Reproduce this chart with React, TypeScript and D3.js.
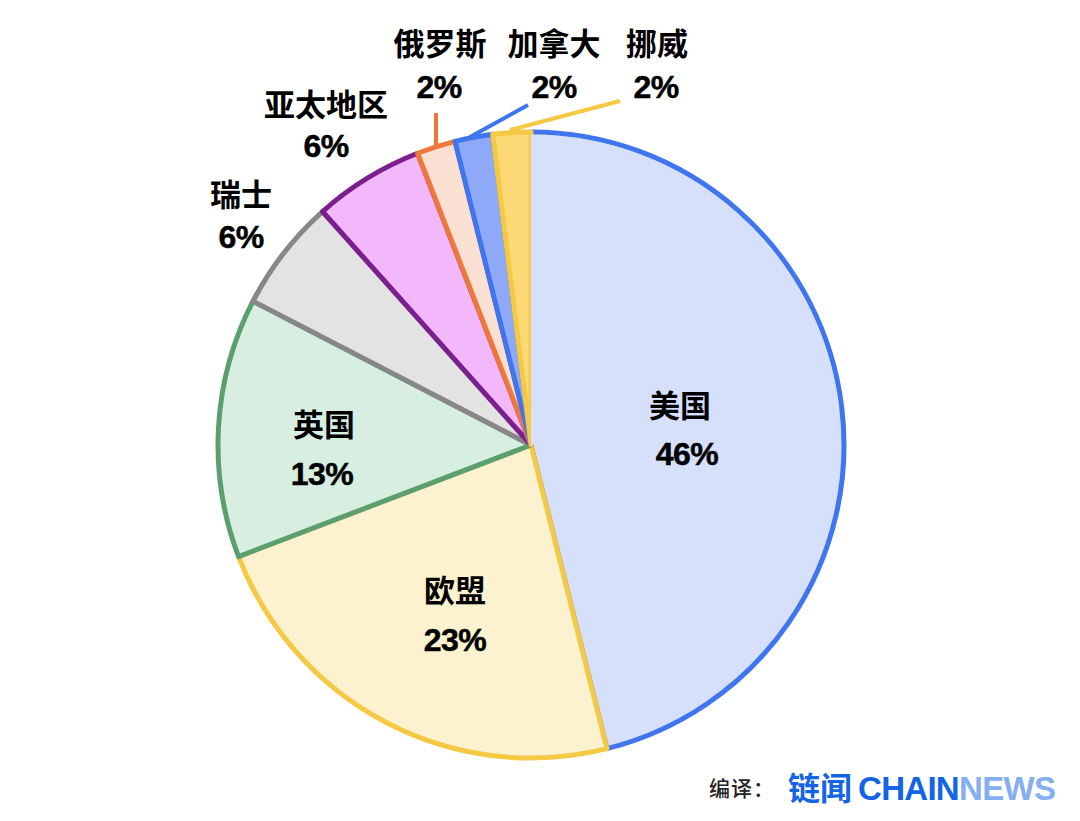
import React from 'react';
import * as d3 from 'd3';

const regions = ['美国', '欧盟', '英国', '瑞士', '亚太地区', '俄罗斯', '加拿大', '挪威'];
const shares = [46.1, 23.1, 13.4, 5.8, 5.7, 2.0, 1.95, 1.95];
const fills = ['#d6e0fb', '#fdf2d0', '#d8eee0', '#e3e3e3', '#f2b8fb', '#fadfd3', '#8ea9f7', '#fcd974'];
const strokes = ['#3f76ef', '#f6c945', '#5b9f6f', '#878787', '#7b1f8f', '#f0773a', '#3f76ef', '#f6c945'];

// label anchors, same order as regions: [name x, name y, percent x, percent y]
const labelPos = [
  [680, 417, 687, 465],
  [455, 602, 455, 651],
  [324, 436, 322, 485],
  [241, 206, 241, 248],
  [326, 116, 326, 157],
  [440, 55, 439, 98],
  [554, 55, 554, 98],
  [657, 55, 656, 98],
];
// leader lines: region index, x1, y1, x2, y2
const leaders: [number, number, number, number, number][] = [
  [5, 436, 145, 436, 113],
  [6, 470, 137, 528, 105],
  [7, 510, 130, 620, 101],
];

const width = 1080;
const height = 821;
const cx = 531;
const cy = 445;
const radius = 313;
const font = '"Liberation Sans", "Noto Sans CJK SC", sans-serif';

export default function App() {
  const pie = d3.pie<number>().value(d => d).sort(null);
  const arc = d3.arc<d3.PieArcDatum<number>>().innerRadius(0).outerRadius(radius);
  const arcs = pie(shares);
  // first half of the us slice, painted again to hide the right half of norway's edge
  const usPatch = d3.arc()({
    innerRadius: 0,
    outerRadius: radius - 2.5,
    startAngle: arcs[0].startAngle,
    endAngle: arcs[0].endAngle / 2,
  });

  return (
    <svg width={width} height={height} style={{ position: 'absolute', left: 0, top: 0, background: '#fff' }}>
      <g transform={`translate(${cx},${cy})`}>
        {arcs.map((d, i) => (
          <path key={regions[i]} d={arc(d) ?? ''} fill={fills[i]} stroke={strokes[i]} strokeWidth={5} strokeLinejoin="round" />
        ))}
        <path d={usPatch ?? ''} fill={fills[0]} />
      </g>
      {leaders.map(([i, x1, y1, x2, y2]) => (
        <line key={i} x1={x1} y1={y1} x2={x2} y2={y2} stroke={strokes[i]} strokeWidth={4} />
      ))}
      <g fontFamily={font} fontWeight={700} fill="#000" textAnchor="middle">
        {regions.map((name, i) => (
          <g key={name}>
            <text x={labelPos[i][0]} y={labelPos[i][1]} fontSize={31}>{name}</text>
            <text x={labelPos[i][2]} y={labelPos[i][3]} fontSize={32} letterSpacing={-0.5} stroke="#000" strokeWidth={0.5}>{Math.round(shares[i])}%</text>
          </g>
        ))}
      </g>
      <text x={709} y={796} fontFamily={font} fontSize={21} fontWeight={500} letterSpacing={1} fill="#222">编译：</text>
      <text x={788} y={800} fontFamily={font} fontSize={32} fontWeight={700} fill="#1464e6">链闻</text>
      <text x={858} y={800} fontFamily={font} fontSize={33} fontWeight={700} fill="#1464e6" letterSpacing={-0.7}>
        CHAIN<tspan fill="#86aef2">NEWS</tspan>
      </text>
    </svg>
  );
}
